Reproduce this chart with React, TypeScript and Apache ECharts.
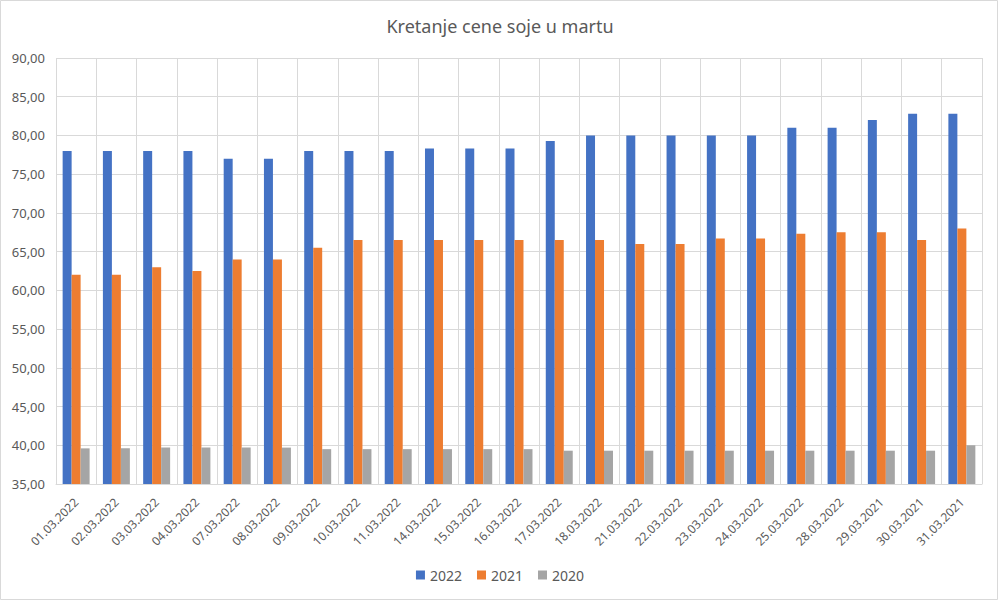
import React, { useEffect, useRef } from "react";
import * as echarts from "echarts";

const categories = [
  "01.03.2022", "02.03.2022", "03.03.2022", "04.03.2022", "07.03.2022",
  "08.03.2022", "09.03.2022", "10.03.2022", "11.03.2022", "14.03.2022",
  "15.03.2022", "16.03.2022", "17.03.2022", "18.03.2022", "21.03.2022",
  "22.03.2022", "23.03.2022", "24.03.2022", "25.03.2022", "28.03.2022",
  "29.03.2021", "30.03.2021", "31.03.2021",
];

const values2022 = [
  78.0, 78.0, 78.0, 78.0, 77.0, 77.0, 78.0, 78.0, 78.0, 78.3, 78.3, 78.3,
  79.3, 80.0, 80.0, 80.0, 80.0, 80.0, 81.0, 81.0, 82.0, 82.8, 82.8,
];

const values2021 = [
  62.0, 62.0, 63.0, 62.5, 64.0, 64.0, 65.5, 66.5, 66.5, 66.5, 66.5, 66.5,
  66.5, 66.5, 66.0, 66.0, 66.7, 66.7, 67.3, 67.5, 67.5, 66.5, 68.0,
];

const values2020 = [
  39.6, 39.6, 39.7, 39.7, 39.7, 39.7, 39.5, 39.5, 39.5, 39.5, 39.5, 39.5,
  39.3, 39.3, 39.3, 39.3, 39.3, 39.3, 39.3, 39.3, 39.3, 39.3, 40.0,
];

const seriesNames = ["2022", "2021", "2020"];
const seriesColors = ["#4472C4", "#ED7D31", "#A5A5A5"];

const FONT = "'Noto Sans', 'Open Sans', sans-serif";
const TEXT_COLOR = "#595959";
const GRID_COLOR = "#d9d9d9";

export default function App() {
  const ref = useRef<HTMLDivElement>(null);

  useEffect(() => {
    document.body.style.margin = "0";
    if (!ref.current) return;
    const chart = echarts.init(ref.current, undefined, { renderer: "svg" });
    const data = [values2022, values2021, values2020];
    chart.setOption({
      animation: false,
      backgroundColor: "#ffffff",
      textStyle: { fontFamily: FONT },
      title: {
        text: "Kretanje cene soje u martu",
        left: "center",
        top: 12,
        textStyle: {
          fontFamily: FONT,
          fontSize: 18,
          fontWeight: "normal",
          color: TEXT_COLOR,
        },
      },
      legend: {
        bottom: 14,
        left: "center",
        itemWidth: 9,
        itemHeight: 9,
        itemGap: 15,
        icon: "rect",
        textStyle: { fontFamily: FONT, fontSize: 14, color: TEXT_COLOR },
        data: seriesNames,
      },
      graphic: [
        {
          type: "rect",
          shape: { x: 0.5, y: 0.5, width: 997, height: 599 },
          style: { fill: "none", stroke: GRID_COLOR, lineWidth: 1 },
          silent: true,
          z: -1,
        },
      ],
      grid: {
        left: 56,
        right: 18,
        top: 58,
        bottom: 117,
        containLabel: false,
      },
      xAxis: {
        type: "category",
        data: categories,
        boundaryGap: true,
        axisLine: { show: true, lineStyle: { color: GRID_COLOR, width: 1 } },
        axisTick: { show: false },
        splitLine: {
          show: true,
          interval: 0,
          lineStyle: { color: GRID_COLOR, width: 1 },
        },
        axisLabel: {
          interval: 0,
          rotate: 45,
          margin: 16,
          fontFamily: FONT,
          fontSize: 12,
          color: TEXT_COLOR,
        },
      },
      yAxis: {
        type: "value",
        min: 35,
        max: 90,
        interval: 5,
        axisLine: { show: false },
        axisTick: { show: false },
        splitLine: { show: true, lineStyle: { color: GRID_COLOR, width: 1 } },
        axisLabel: {
          margin: 11,
          fontFamily: FONT,
          fontSize: 13,
          color: TEXT_COLOR,
          formatter: (v: number) => v.toFixed(2).replace(".", ","),
        },
      },
      series: seriesNames.map((name, i) => ({
        name,
        type: "bar",
        data: data[i],
        barGap: "0%",
        barCategoryGap: "33%",
        itemStyle: { color: seriesColors[i] },
      })),
    });
    return () => chart.dispose();
  }, []);

  return <div ref={ref} style={{ width: 1000, height: 601 }} />;
}
